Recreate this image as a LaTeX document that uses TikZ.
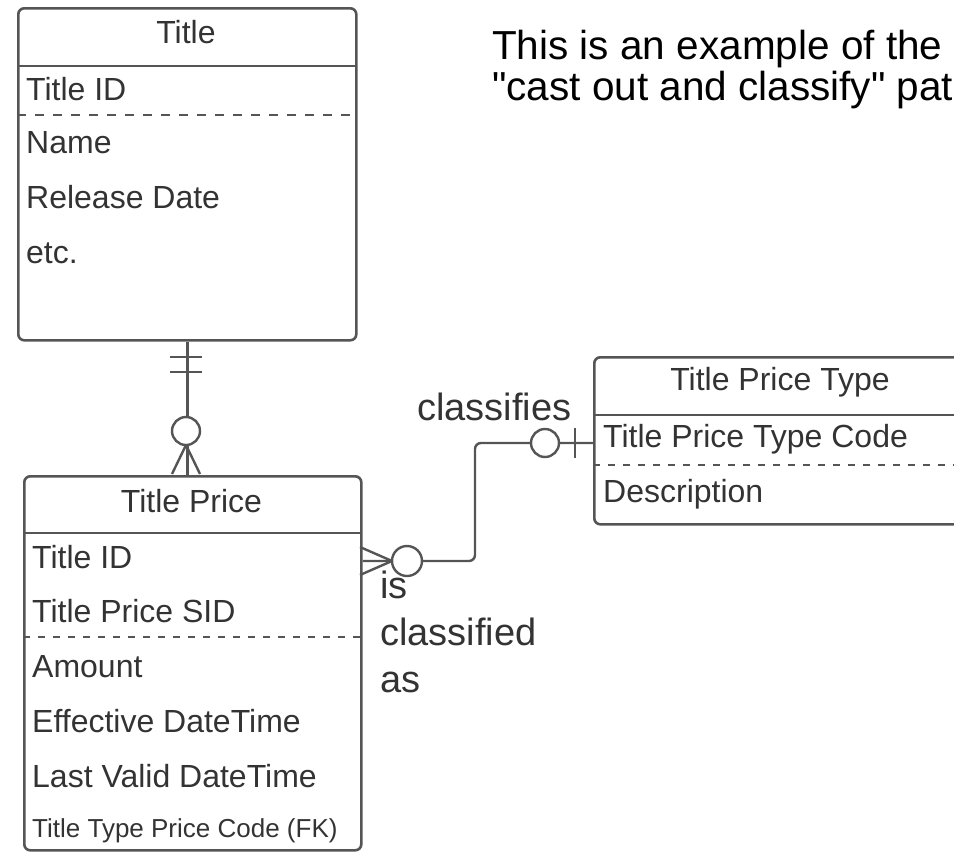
\documentclass[tikz,border=0pt]{standalone}
\usepackage{fontspec}
\setmainfont{Liberation Sans}
\definecolor{linegray}{HTML}{555555}
\definecolor{txtgray}{HTML}{333333}

\begin{document}
\begin{tikzpicture}[x=1pt,y=-1pt,
    entity/.style={draw=linegray,line width=2.6pt,rounded corners=6pt,anchor=north west,inner sep=0pt},
    head/.style={anchor=base,inner sep=0pt,text=txtgray,font=\fontsize{32}{38}\selectfont},
    attr/.style={anchor=base west,inner sep=0pt,text=txtgray,font=\fontsize{32}{38}\selectfont},
    label/.style={anchor=base west,inner sep=0pt,text=txtgray,font=\fontsize{38}{46}\selectfont},
    note/.style={anchor=base west,inner sep=0pt,font=\fontsize{40.5}{49}\selectfont},
    divider/.style={draw=linegray,line width=2.6pt},
    keyline/.style={draw=linegray,line width=1.6pt,dash pattern=on 9pt off 9pt},
    rel/.style={draw=linegray,line width=2.4pt}]
  \useasboundingbox (0,0) rectangle (954,852);
  \clip (0,0) rectangle (954,852);

  \node[note] (note1) at (492,59) {This is an example of the};
  \node[note] (note2) at (492,100) {\textquotedbl cast out and classify\textquotedbl{} pat};

  \node[entity,minimum width=338,minimum height=332] (title) at (17,7) {};
  \draw[divider] (17,66) -- (355,66);
  \draw[keyline] (17,115) -- (355,115);
  \node[head] (title-h) at (186,43) {Title};
  \node[attr] (title-id) at (26,100) {Title ID};
  \node[attr] (title-name) at (26,153) {Name};
  \node[attr] (title-rel) at (26,208) {Release Date};
  \node[attr] (title-etc) at (26,263) {etc.};

  \node[entity,minimum width=337,minimum height=374] (tprice) at (23,475) {};
  \draw[divider] (23,533) -- (360,533);
  \draw[keyline,dash pattern=on 7pt off 8pt] (23,637) -- (360,637);
  \node[head] (tprice-h) at (191.5,512) {Title Price};
  \node[attr] (tprice-id) at (32,568) {Title ID};
  \node[attr] (tprice-sid) at (32,622) {Title Price SID};
  \node[attr] (tprice-amt) at (32,677) {Amount};
  \node[attr] (tprice-eff) at (32,732) {Effective DateTime};
  \node[attr] (tprice-last) at (32,787) {Last Valid DateTime};
  \node[attr,font=\fontsize{26}{31}\selectfont] (tprice-fk) at (32,837) {Title Type Price Code (FK)};

  \node[entity,minimum width=374,minimum height=167] (ttype) at (593,356) {};
  \draw[divider] (593,415) -- (967,415);
  \draw[keyline,dash pattern=on 7pt off 8pt] (593,465) -- (967,465);
  \node[head] (ttype-h) at (780,390) {Title Price Type};
  \node[attr] (ttype-code) at (603,447) {Title Price Type Code};
  \node[attr] (ttype-desc) at (603,502) {Description};

  \node[label] (classifies) at (417,420) {classifies};
  \node[label] (is1) at (380,598) {is};
  \node[label] (is2) at (380,645) {classified};
  \node[label] (is3) at (380,692) {as};

  \draw[rel] (title.south) -- (title.south |- tprice.north);
  \draw[rel] (170,357) -- (202,357) (170,372) -- (202,372);
  \draw[rel] (172,474) -- (186,445) -- (200,474);
  \draw[rel,fill=white] (186,431) circle (14pt);

  \coordinate (lowrow) at (0,561);
  \coordinate (highrow) at (0,443);
  \draw[rel,rounded corners=6pt] (tprice.east |- lowrow) -- (475,561) -- (475,443) -- (ttype.west |- highrow);
  \draw[rel] (360,547) -- (392,561) -- (360,575);
  \draw[rel,fill=white] (407,561) circle (15pt);
  \draw[rel,fill=white] (545,443) circle (14pt);
  \draw[rel] (575,428) -- (575,458);
\end{tikzpicture}
\end{document}
